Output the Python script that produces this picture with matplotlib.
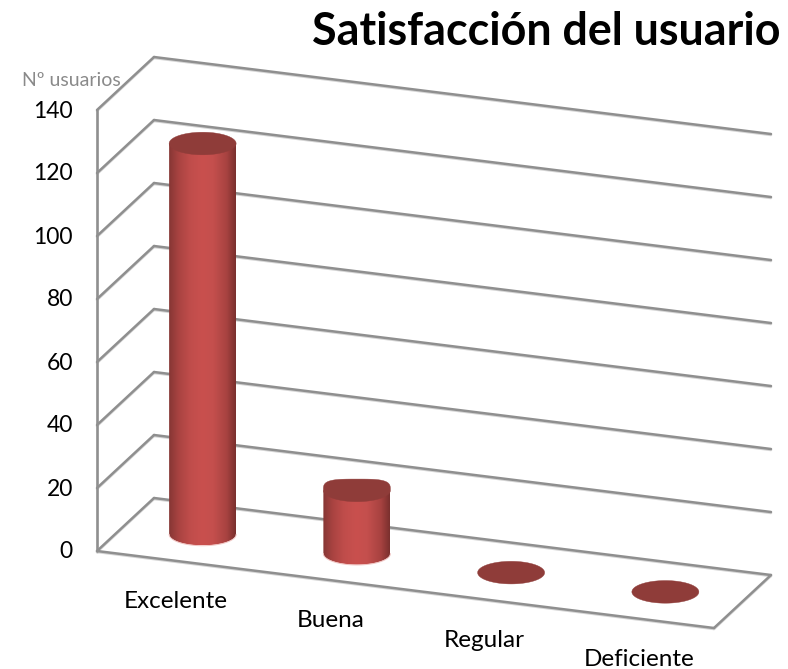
import numpy as np
import matplotlib
matplotlib.use("Agg")
import matplotlib.pyplot as plt
from matplotlib.colors import LinearSegmentedColormap
from matplotlib.patches import PathPatch
from matplotlib.path import Path

# data
categories = ["Excelente", "Buena", "Regular", "Deficiente"]
users = [124, 20, 0, 0]
y_ticks = [0, 20, 40, 60, 80, 100, 120, 140]

# how flat the upper half of each cap is (the second one is squarish in the original)
cap_power = [2.0, 3.6, 2.0, 2.0]

# fake 3D box, in pixels
origin = np.array([97.0, 551.0])
x_vec = np.array([617.0, 77.0]) / 4  # one category
y_vec = np.array([0.0, -441.0]) / 140  # one user
z_vec = np.array([57.0, -53.0])  # full depth
RX = 33.5
RY = 11.3

GRID = "#8f8f8f"
CAP = "#8f3c39"
body_cmap = LinearSegmentedColormap.from_list(
    "body", [(0, "#863634"), (0.14, "#a84341"), (0.32, "#c04d4b"), (0.5, "#c9504e"),
             (0.66, "#c44f4d"), (0.86, "#a84341"), (1, "#7a302e")])

plt.rcParams["font.family"] = ["Lato", "DejaVu Sans"]


def project(cat, val, depth=0.0):
    return origin + cat * x_vec + val * y_vec + depth * z_vec


def line(ax, a, b):
    ax.plot([a[0], b[0]], [a[1] + 1, b[1] + 1], color="#d4d4d4", lw=1.8, zorder=1,
            solid_capstyle="round")
    ax.plot([a[0], b[0]], [a[1], b[1]], color=GRID, lw=1.8, zorder=2,
            solid_capstyle="round")


def draw_box(ax):
    n = len(categories)
    for v in y_ticks:
        line(ax, project(0, v), project(0, v, 1))
        line(ax, project(0, v, 1), project(n, v, 1))
    line(ax, project(0, 0), project(0, y_ticks[-1]))
    line(ax, project(0, 0), project(n, 0))
    line(ax, project(n, 0), project(n, 0, 1))


def draw_cylinder(ax, i, val):
    base = project(i + 0.5, 0, 0.5)
    top = project(i + 0.5, val, 0.5)
    t = np.linspace(0, np.pi, 60)

    if val > 0:
        # side of the cylinder with its rounded bottom
        low = np.column_stack([base[0] + RX * np.cos(t), base[1] + RY * np.sin(t)])
        verts = np.vstack([[top[0] + RX, top[1]], low, [top[0] - RX, top[1]],
                           [top[0] + RX, top[1]]])
        clip = PathPatch(Path(verts), fc="none", ec="none", transform=ax.transData)
        ax.add_patch(clip)
        grad = np.linspace(0, 1, 256).reshape(1, -1)
        im = ax.imshow(grad, cmap=body_cmap, aspect="auto", zorder=3,
                       extent=[top[0] - RX, top[0] + RX, base[1] + RY, top[1]])
        im.set_clip_path(clip)
        # pale rim along the bottom edge
        ax.plot(low[:, 0], low[:, 1] + 0.3, color="#f0c4c2", lw=0.7, zorder=4)

    # cap, upper half may be squarish
    p = 2.0 / cap_power[i]
    up_x = RX * np.sign(np.cos(t)) * np.abs(np.cos(t)) ** p
    up_y = -RY * np.sin(t) ** p
    cap = np.vstack([np.column_stack([top[0] + up_x, top[1] + up_y]),
                     np.column_stack([top[0] - RX * np.cos(t), top[1] + RY * np.sin(t)])])
    ax.fill(cap[:, 0], cap[:, 1], color=CAP, lw=0.3, zorder=5)


def main():
    fig = plt.figure(figsize=(7.88, 6.69), dpi=100)
    ax = fig.add_axes([0, 0, 1, 1])

    draw_box(ax)
    for i, val in enumerate(users):
        draw_cylinder(ax, i, val)

    ax.set_xlim(0, 788)
    ax.set_ylim(669, 0)
    ax.axis("off")

    for v in y_ticks:
        p = project(0, v)
        ax.text(p[0] - 24, p[1] + 1, str(v), ha="right", va="center", fontsize=16.5,
                color="black")

    for i, name in enumerate(categories):
        p = project(i + 0.5, 0)
        ax.text(p[0] + 2, p[1] + 41, name, ha="center", va="center", fontsize=17.5,
                color="black")

    ax.text(121, 80, "Nº usuarios", ha="right", va="center", fontsize=14, color="#8a8a8a")
    ax.text(781, 32, "Satisfacción del usuario", ha="right", va="center", fontsize=32.3,
            fontweight="bold", color="black")

    fig.savefig("out.png", dpi=100)


if __name__ == "__main__":
    main()
